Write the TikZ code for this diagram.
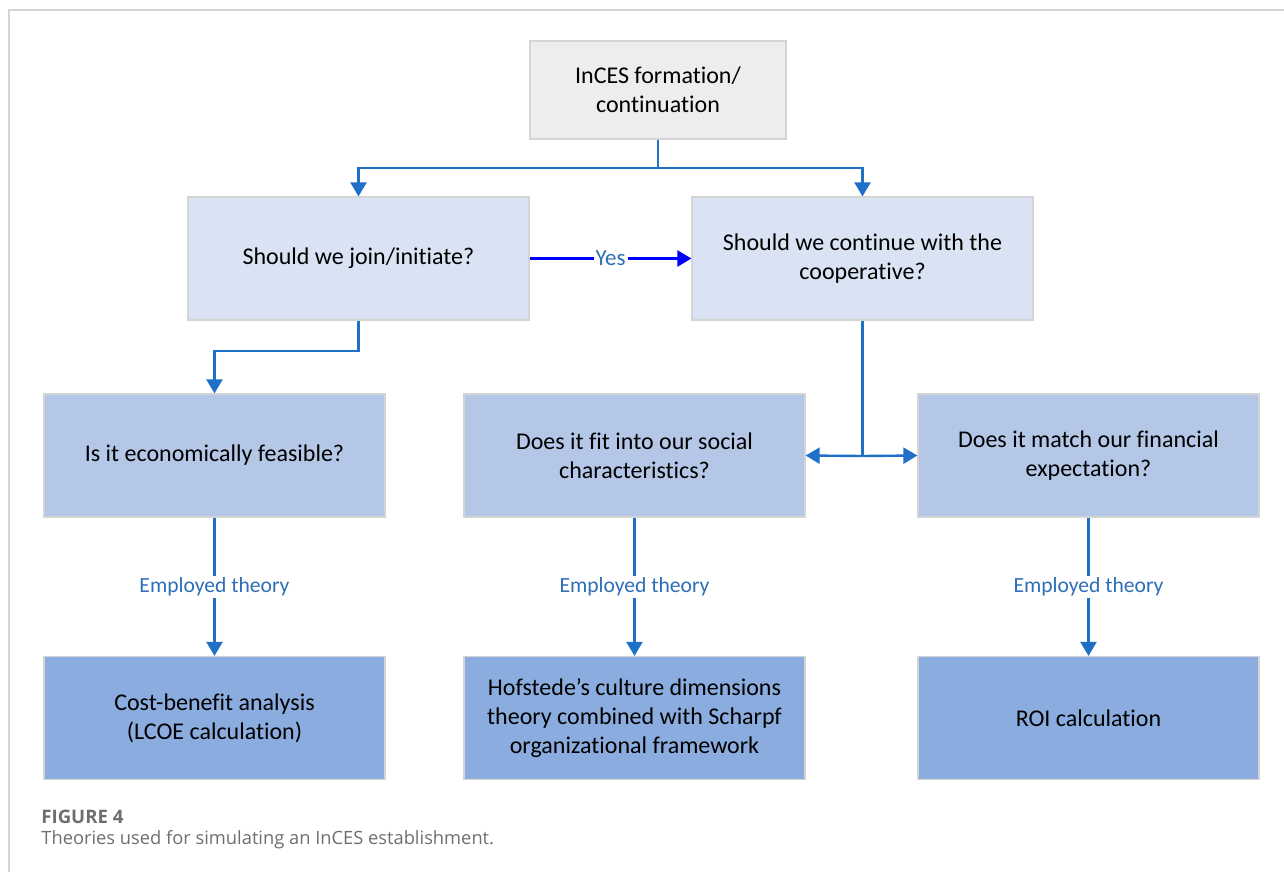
\documentclass[tikz,border=0pt]{standalone}
\usepackage{fontspec}
\setmainfont[Ligatures=NoCommon]{Carlito}
\newfontfamily\capfont{Open Sans}
\usetikzlibrary{arrows.meta}

\definecolor{topgray}{HTML}{EDEDED}
\definecolor{asklight}{HTML}{DAE3F3}
\definecolor{askmid}{HTML}{B4C7E7}
\definecolor{theorybox}{HTML}{8AACDE}
\definecolor{edgegray}{HTML}{D4D4D4}
\definecolor{linkblue}{HTML}{2070C8}
\definecolor{labelblue}{HTML}{2E6FB8}
\definecolor{capgray}{HTML}{6E6E6E}

\tikzset{
  box/.style={rectangle,draw=edgegray,line width=0.6pt,align=center,
    minimum width=170.5pt,minimum height=61.5pt,inner sep=0pt,
    font=\fontsize{12}{14.5}\selectfont},
  topbox/.style={box,fill=topgray,minimum width=128pt,minimum height=49pt},
  askbox/.style={box,fill=asklight},
  subbox/.style={box,fill=askmid},
  theory/.style={box,fill=theorybox},
  link/.style={draw=linkblue,line width=1.2pt,-{Triangle[width=8pt,length=7pt]}},
  plain/.style={draw=linkblue,line width=1.2pt},
  tag/.style={fill=white,text=labelblue,inner sep=1pt,font=\fontsize{10.8}{12}\selectfont}
}

\begin{document}
\begin{tikzpicture}[x=0.5pt,y=-0.5pt]
\useasboundingbox (0,0) rectangle (1284,872);

% Frame
\draw[color=edgegray,line width=0.8pt] (1284,10) -- (9,10) -- (9,872);

% Boxes
\node[topbox] (start) at (658,90) {InCES formation/\\continuation};
\node[askbox] (join) at (358.5,258.5) {Should we join/initiate?};
\node[askbox] (cont) at (862.5,258.5) {Should we continue with the\\cooperative?};
\node[subbox] (feas) at (214.5,455.5) {Is it economically feasible?};
\node[subbox] (social) at (634.5,455.5) {Does it fit into our social\\characteristics?};
\node[subbox] (fin) at (1088.5,455.5) {Does it match our financial\\expectation?};
\node[theory] (cba) at (214.5,718) {Cost-benefit analysis\\(LCOE calculation)};
\node[theory] (hof) at (634.5,718) {Hofstede’s culture dimensions\\theory combined with Scharpf\\organizational framework};
\node[theory] (roi) at (1088.5,718) {ROI calculation};

% Bends
\coordinate (split) at (658,168);
\coordinate (bend) at (358.5,351);
\coordinate (hub) at (862.5,456);

% Connectors
\draw[plain] (start.south) -- (split);
\draw[link] (split) -| (join.north);
\draw[link] (split) -| (cont.north);
\draw[link,draw=blue] (join.east) -- node[tag,font=\fontsize{11.5}{12}\selectfont]{Yes} (cont.west);
\draw[link] (join.south) -- (bend) -| (feas.north);
\draw[plain] (cont.south) -- (hub);
\draw[link] (hub) -- (social.east);
\draw[link] (hub) -- (fin.west);

\foreach \q/\t in {feas/cba,social/hof,fin/roi}{
  \draw[link] (\q.south) -- node[tag,pos=0.5]{Employed theory} (\t.north);
}

% Caption
\node[anchor=west,inner sep=0pt,text=capgray,font=\capfont\bfseries\fontsize{9.3}{10}\selectfont] (figno) at (41,817) {FIGURE 4};
\node[anchor=west,inner sep=0pt,text=capgray,font=\capfont\fontsize{9.15}{10}\selectfont] (figcap) at (41,840) {Theories used for simulating an InCES establishment.};
\end{tikzpicture}
\end{document}
